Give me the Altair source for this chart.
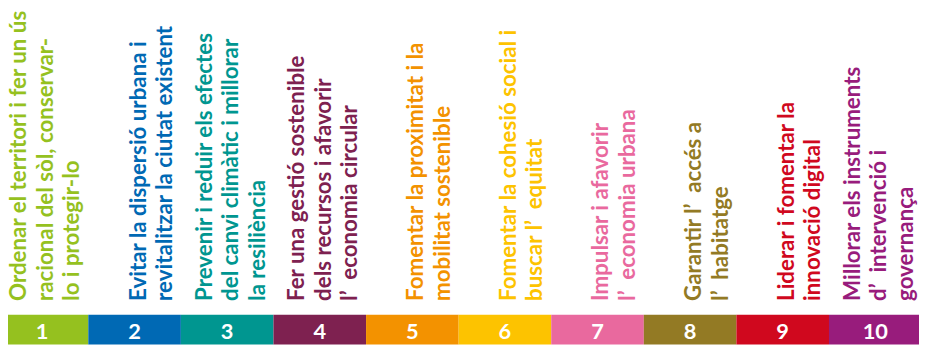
import altair as alt
import pandas as pd

nums = ["1", "2", "3", "4", "5", "6", "7", "8", "9", "10"]
colors = ["#95C11F", "#0069B4", "#009690", "#7E2150", "#F39200",
          "#FDC300", "#E9699E", "#937A24", "#D0081E", "#981C7C"]
label_lines = [
    ["Ordenar el territori i fer un ús", "racional del sòl, conservar-", "lo i protegir-lo"],
    ["Evitar la dispersió urbana i", "revitalitzar la ciutat existent"],
    ["Prevenir i reduir els efectes", "del canvi climàtic i millorar", "la resiliència"],
    ["Fer una gestió sostenible", "dels recursos i afavorir", "l’\u00a0\u00a0economia circular"],
    ["Fomentar la proximitat i la", "mobilitat sostenible"],
    ["Fomentar la cohesió social i", "buscar l’\u00a0\u00a0equitat"],
    ["Impulsar i afavorir", "l’\u00a0\u00a0economia urbana"],
    ["Garantir l’\u00a0\u00a0accés a", "l’\u00a0\u00a0habitatge"],
    ["Liderar i fomentar la", "innovació digital"],
    ["Millorar els instruments", "d’\u00a0\u00a0intervenció i", "governança"],
]

bars = pd.DataFrame({"cat": nums})
rows = []
for n, lines in zip(nums, label_lines):
    for i, t in enumerate(lines):
        rows.append({"cat": n, "text": t, "slot": i + 3 - len(lines)})
texts = pd.DataFrame(rows)

FONT = "Lato"
xscale = alt.Scale(domain=nums, range=[-12.4, 921.6], paddingInner=0, paddingOuter=0)
cscale = alt.Scale(domain=nums, range=colors)

bar_layer = alt.Chart(bars).mark_bar(size=93.4).encode(
    x=alt.X("cat:N", scale=xscale, axis=None, sort=nums),
    y=alt.value(308), y2=alt.value(338),
    color=alt.Color("cat:N", scale=cscale, legend=None),
)

num_layer = alt.Chart(bars).mark_text(
    font=FONT, fontWeight="bold", fontSize=22, color="white", baseline="middle", align="center"
).encode(
    x=alt.X("cat:N", scale=xscale, axis=None, sort=nums),
    y=alt.value(325),
    text="cat:N",
)

text_layer = alt.Chart(texts).mark_text(
    font=FONT, fontWeight="bold", fontSize=22.5, angle=270, align="left", baseline="middle"
).encode(
    x=alt.X("cat:N", scale=xscale, axis=None, sort=nums),
    xOffset=alt.XOffset("slot:O", scale=alt.Scale(type="point", domain=[0, 1, 2], range=[24, 77.5], padding=0)),
    y=alt.value(294),
    text="text:N",
    color=alt.Color("cat:N", scale=cscale, legend=None),
)

chart = alt.layer(bar_layer, text_layer, num_layer).properties(
    width=919, height=338, autosize=alt.AutoSizeParams(type="none"), padding=0
).configure_view(stroke=None)

chart.save("out.html", embed_options={"renderer": "svg", "actions": False})
